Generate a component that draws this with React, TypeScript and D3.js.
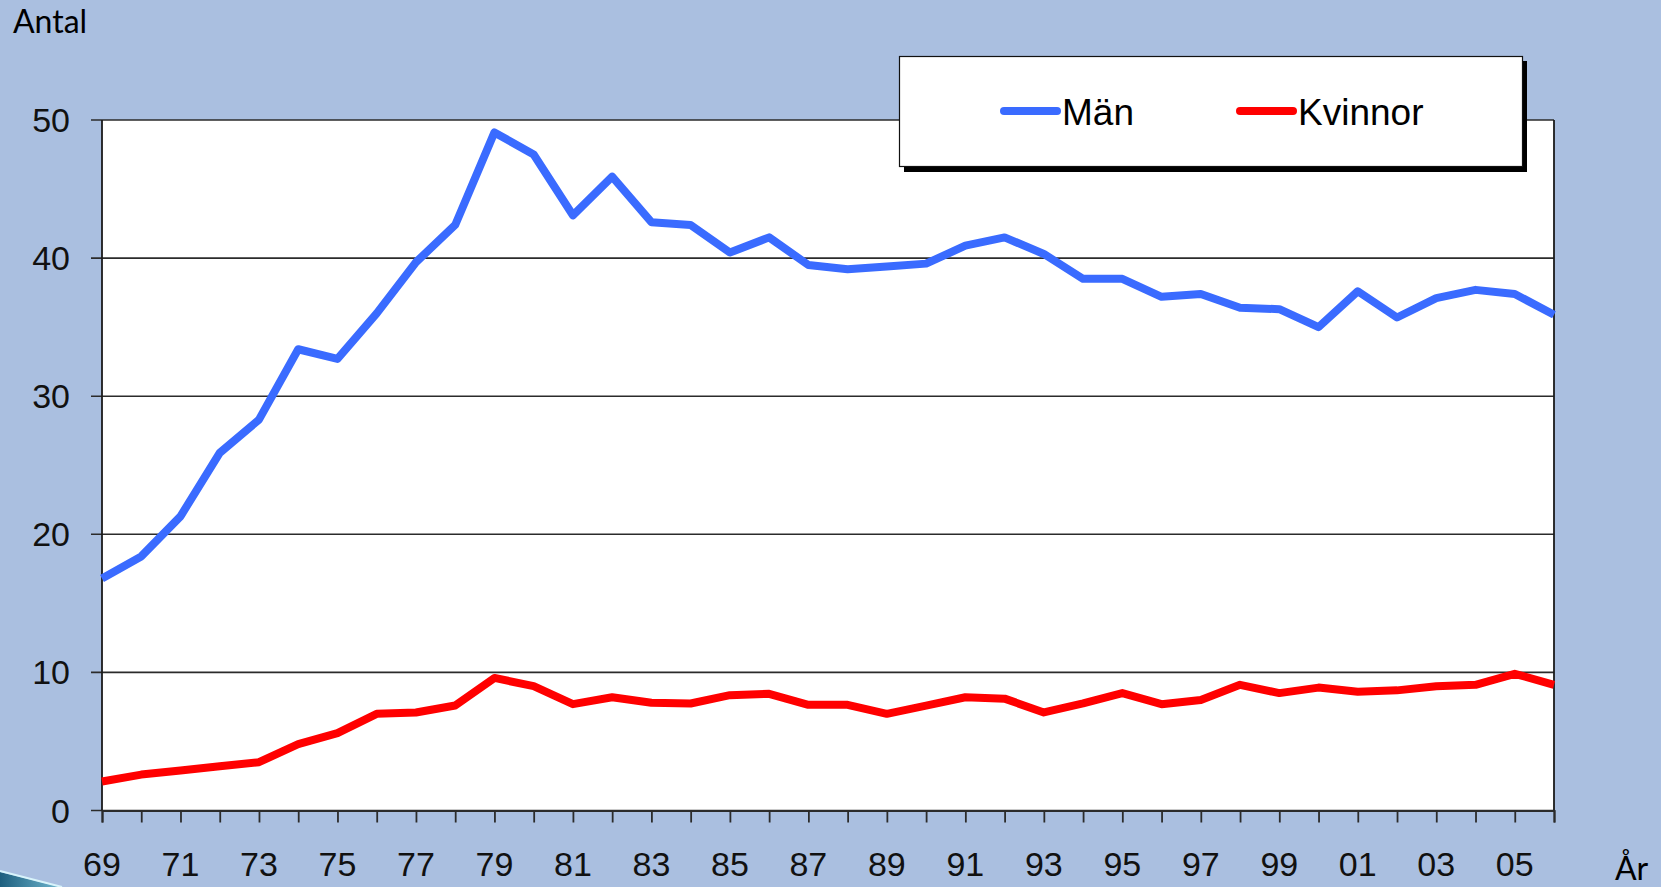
import React, { useEffect, useRef } from "react";
import * as d3 from "d3";

const years = [
  1969, 1970, 1971, 1972, 1973, 1974, 1975, 1976, 1977, 1978,
  1979, 1980, 1981, 1982, 1983, 1984, 1985, 1986, 1987, 1988,
  1989, 1990, 1991, 1992, 1993, 1994, 1995, 1996, 1997, 1998,
  1999, 2000, 2001, 2002, 2003, 2004, 2005, 2006,
];

const men = [
  16.8, 18.4, 21.3, 25.9, 28.3, 33.4, 32.7, 36.0, 39.7, 42.4,
  49.1, 47.5, 43.1, 45.9, 42.6, 42.4, 40.4, 41.5, 39.5, 39.2,
  39.4, 39.6, 40.9, 41.5, 40.3, 38.5, 38.5, 37.2, 37.4, 36.4,
  36.3, 35.0, 37.6, 35.7, 37.1, 37.7, 37.4, 35.9,
];

const women = [
  2.1, 2.6, 2.9, 3.2, 3.5, 4.8, 5.6, 7.0, 7.1, 7.6,
  9.6, 9.0, 7.7, 8.2, 7.8, 7.75, 8.35, 8.45, 7.65, 7.65,
  7.0, 7.6, 8.2, 8.1, 7.1, 7.75, 8.5, 7.7, 8.0, 9.1,
  8.5, 8.9, 8.6, 8.7, 9.0, 9.1, 9.9, 9.1,
];

const yTicks = [0, 10, 20, 30, 40, 50];
const xLabelYears = [
  1969, 1971, 1973, 1975, 1977, 1979, 1981, 1983, 1985, 1987,
  1989, 1991, 1993, 1995, 1997, 1999, 2001, 2003, 2005,
];

const seriesNames = ["Män", "Kvinnor"];
const seriesColors = ["#3A6BFF", "#FF0000"];

const W = 1661;
const H = 887;
const left = 102;
const right = 1554;
const top = 120;
const bottom = 810.5;

const App = () => {
  const ref = useRef<SVGSVGElement>(null);

  useEffect(() => {
    const svg = d3.select(ref.current);
    svg.selectAll("*").remove();

    // background
    svg.append("rect").attr("width", W).attr("height", H).attr("fill", "#AABFE0");

    // little swoosh in the corner
    const grad = svg.append("defs").append("linearGradient").attr("id", "sw");
    grad.append("stop").attr("offset", "0").attr("stop-color", "#1d5f7e");
    grad.append("stop").attr("offset", "1").attr("stop-color", "#6fb6cf");
    svg.append("path").attr("d", "M0,872 L60,887 L0,887 Z").attr("fill", "url(#sw)");
    svg.append("path").attr("d", "M0,871 L62,887").attr("stroke", "#d8f4fb").attr("stroke-width", 2);

    const x = d3.scalePoint<number>().domain(years).range([left, right]);
    const y = d3.scaleLinear().domain([0, 50]).range([bottom, top]);

    // plot area
    svg.append("rect")
      .attr("x", left).attr("y", top)
      .attr("width", right - left).attr("height", bottom - top)
      .attr("fill", "#fff");

    // gridlines
    svg.append("g")
      .selectAll("line")
      .data(yTicks)
      .enter()
      .append("line")
      .attr("x1", left - 11).attr("x2", right)
      .attr("y1", (d) => y(d)).attr("y2", (d) => y(d))
      .attr("stroke", "#2b2b2b").attr("stroke-width", 1.6);

    // frame sides
    svg.append("line").attr("x1", left).attr("x2", left).attr("y1", top).attr("y2", bottom)
      .attr("stroke", "#1a1a1a").attr("stroke-width", 1.8);
    svg.append("line").attr("x1", right).attr("x2", right).attr("y1", top).attr("y2", bottom)
      .attr("stroke", "#1a1a1a").attr("stroke-width", 1.8);

    // y labels
    svg.append("g")
      .selectAll("text")
      .data(yTicks)
      .enter()
      .append("text")
      .attr("x", 70)
      .attr("y", (d) => y(d) + 12)
      .attr("text-anchor", "end")
      .style("font-family", "'Liberation Sans', Arial, sans-serif")
      .style("font-size", "34px")
      .attr("fill", "#111")
      .text((d) => d);

    // x axis ticks + labels
    svg.append("g")
      .attr("transform", `translate(0,${bottom})`)
      .call(
        d3.axisBottom(x)
          .tickValues(years)
          .tickSize(12)
          .tickFormat(() => "")
      )
      .call((g) => g.select(".domain").attr("stroke", "#2b2b2b").attr("stroke-width", 2))
      .call((g) => g.selectAll(".tick line").attr("stroke", "#2b2b2b").attr("stroke-width", 1.8));

    svg.append("g")
      .selectAll("text")
      .data(xLabelYears)
      .enter()
      .append("text")
      .attr("x", (d) => x(d)!)
      .attr("y", 876)
      .attr("text-anchor", "middle")
      .style("font-family", "'Liberation Sans', Arial, sans-serif")
      .style("font-size", "34px")
      .attr("fill", "#111")
      .text((d) => String(d % 100).padStart(2, "0"));

    // lines
    const line = d3
      .line<number>()
      .x((_, i) => x(years[i])!)
      .y((d) => y(d));

    [men, women].forEach((s, i) => {
      svg.append("path")
        .attr("d", line(s))
        .attr("fill", "none")
        .attr("stroke", seriesColors[i])
        .attr("stroke-width", 8)
        .attr("stroke-linejoin", "round");
    });

    // legend
    const lg = svg.append("g");
    lg.append("rect").attr("x", 904).attr("y", 61).attr("width", 623).attr("height", 111).attr("fill", "#000");
    lg.append("rect").attr("x", 899.5).attr("y", 56.5).attr("width", 623).attr("height", 110)
      .attr("fill", "#fff").attr("stroke", "#111").attr("stroke-width", 1.2);
    const lx = [1004, 1240];
    seriesNames.forEach((n, i) => {
      lg.append("line")
        .attr("x1", lx[i]).attr("x2", lx[i] + 53)
        .attr("y1", 111).attr("y2", 111)
        .attr("stroke", seriesColors[i]).attr("stroke-width", 8).attr("stroke-linecap", "round");
      lg.append("text")
        .attr("x", lx[i] + 58).attr("y", 125)
        .style("font-family", "'Liberation Sans', Arial, sans-serif")
        .style("font-size", "37px")
        .attr("fill", "#000")
        .text(n);
    });

    // axis titles
    svg.append("text").attr("x", 13).attr("y", 33)
      .style("font-family", "Lato, sans-serif").style("font-size", "32px").attr("fill", "#000")
      .text("Antal");
    svg.append("text").attr("x", 1615).attr("y", 880)
      .style("font-family", "Lato, sans-serif").style("font-size", "32px").attr("fill", "#000")
      .text("År");
  }, []);

  return (
    <svg
      ref={ref}
      width={W}
      height={H}
      style={{ position: "absolute", left: 0, top: 0, display: "block" }}
    />
  );
};

export default App;
